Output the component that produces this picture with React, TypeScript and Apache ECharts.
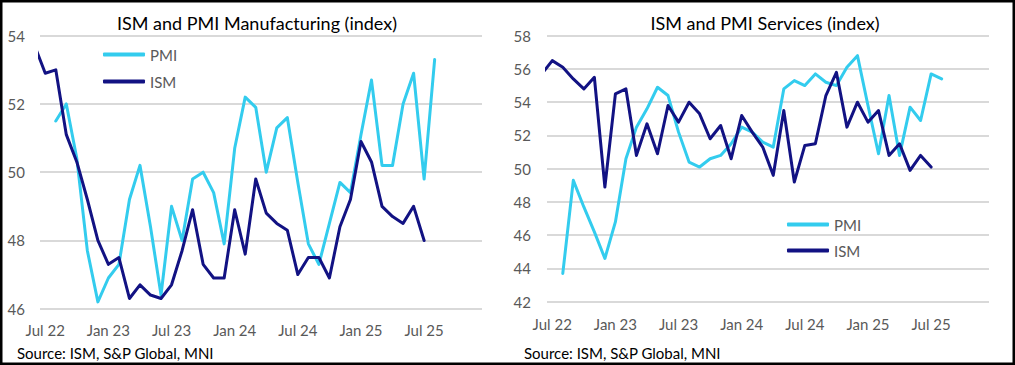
import React, { useEffect, useRef } from "react";
import * as echarts from "echarts";

// Monthly categories, index -1 = Jun 22 (clipped at the left edge), 0 = Jul 22 ... 37 = Aug 25
const months = [
  "Jun 22", "Jul 22", "Aug 22", "Sep 22", "Oct 22", "Nov 22", "Dec 22",
  "Jan 23", "Feb 23", "Mar 23", "Apr 23", "May 23", "Jun 23", "Jul 23", "Aug 23", "Sep 23", "Oct 23", "Nov 23", "Dec 23",
  "Jan 24", "Feb 24", "Mar 24", "Apr 24", "May 24", "Jun 24", "Jul 24", "Aug 24", "Sep 24", "Oct 24", "Nov 24", "Dec 24",
  "Jan 25", "Feb 25", "Mar 25", "Apr 25", "May 25", "Jun 25", "Jul 25", "Aug 25",
];

const tickLabels = ["Jul 22", "Jan 23", "Jul 23", "Jan 24", "Jul 24", "Jan 25", "Jul 25"];

// Manufacturing
const mfgISM: (number | null)[] = [
  53.7, 52.9, 53.0, 51.1, 50.3, 49.2, 48.0,
  47.3, 47.5, 46.3, 46.7, 46.4, 46.3, 46.7, 47.7, 48.9, 47.3, 46.9, 46.9,
  48.9, 47.6, 49.8, 48.8, 48.5, 48.3, 47.0, 47.5, 47.5, 46.9, 48.4, 49.2,
  50.9, 50.3, 49.0, 48.7, 48.5, 49.0, 48.0, null,
];
const mfgPMI: (number | null)[] = [
  null, null, 51.5, 52.0, 50.4, 47.7, 46.2,
  46.9, 47.3, 49.2, 50.2, 48.4, 46.4, 49.0, 48.0, 49.8, 50.0, 49.4, 47.9,
  50.7, 52.2, 51.9, 50.0, 51.3, 51.6, 49.7, 47.9, 47.3, 48.5, 49.7, 49.4,
  51.1, 52.7, 50.2, 50.2, 52.0, 52.9, 49.8, 53.3,
];

// Services
const svcISM: (number | null)[] = [
  55.7, 56.5, 56.1, 55.4, 54.8, 55.5, 48.9,
  54.5, 54.8, 50.8, 52.7, 50.9, 53.8, 52.8, 54.0, 53.3, 51.8, 52.6, 50.6,
  53.2, 52.2, 51.3, 49.6, 53.5, 49.2, 51.4, 51.5, 54.4, 55.8, 52.5, 54.0,
  52.8, 53.5, 50.8, 51.5, 49.9, 50.8, 50.1, null,
];
const svcPMI: (number | null)[] = [
  null, null, 43.7, 49.3, 47.7, 46.2, 44.6,
  46.8, 50.6, 52.5, 53.6, 54.9, 54.4, 52.2, 50.4, 50.1, 50.6, 50.8, 51.5,
  52.5, 52.2, 51.6, 51.3, 54.8, 55.3, 55.0, 55.7, 55.2, 55.0, 56.1, 56.8,
  53.8, 50.9, 54.4, 50.8, 53.7, 52.9, 55.7, 55.4,
];

const titles = ["ISM and PMI Manufacturing (index)", "ISM and PMI Services (index)"];
const sourceText = "Source: ISM, S&P Global, MNI";

const PMI_COLOR = "#33CCEE";
const ISM_COLOR = "#121283";
const FONT = "Lato";

const toPoints = (vals: (number | null)[]) =>
  months
    .map((_, k) => [k - 1, vals[k]] as [number, number | null])
    .filter((p) => p[1] !== null);

export default function App() {
  const ref = useRef<HTMLDivElement>(null);

  useEffect(() => {
    document.body.style.margin = "0";
    if (!ref.current) return;
    const chart = echarts.init(ref.current, null, { renderer: "svg" });

    const tickValues = tickLabels.map((l) => months.indexOf(l) - 1);

    const xAxisBase = (gridIndex: number, margin: number) => ({
      type: "value" as const,
      gridIndex,
      min: -0.5,
      max: 41.5,
      axisLine: { show: false },
      axisTick: { show: false },
      splitLine: { show: false },
      axisLabel: {
        customValues: tickValues,
        formatter: (v: number) => months[Math.round(v) + 1] ?? "",
        color: "#595959",
        fontFamily: FONT,
        fontSize: 15,
        margin,
      },
    });

    const yAxisBase = (gridIndex: number, min: number, max: number, margin: number) => ({
      type: "value" as const,
      gridIndex,
      min,
      max,
      interval: 2,
      axisLine: { show: false },
      axisTick: { show: false },
      splitLine: { lineStyle: { color: "#D9D9D9", width: 2 } },
      axisLabel: { color: "#595959", fontFamily: FONT, fontSize: 15, margin },
    });

    const lineSeries = (name: string, color: string, idx: number, vals: (number | null)[]) => ({
      name,
      type: "line" as const,
      xAxisIndex: idx,
      yAxisIndex: idx,
      data: toPoints(vals),
      showSymbol: false,
      symbol: "none",
      clip: true,
      lineStyle: { color, width: 3, cap: "round", join: "round" },
      itemStyle: { color },
    });

    const legendItem = (name: string, left: number, top: number) => ({
      data: [name],
      left,
      top,
      orient: "horizontal",
      icon: "roundRect",
      itemWidth: 42,
      itemHeight: 4,
      padding: 0,
      selectedMode: false,
      textStyle: { color: "#595959", fontFamily: FONT, fontSize: 15 },
    });

    chart.setOption({
      animation: false,
      grid: [
        { left: 40, top: 35.7, width: 442, height: 273 },
        { left: 547, top: 35.7, width: 442, height: 266 },
      ],
      xAxis: [xAxisBase(0, 14), xAxisBase(1, 15)],
      yAxis: [yAxisBase(0, 46, 54, 15), yAxisBase(1, 42, 58, 16)],
      legend: [
        legendItem("PMI", 103, 47),
        legendItem("ISM", 103, 74),
        legendItem("PMI", 787, 217),
        legendItem("ISM", 787, 243),
      ],
      series: [
        lineSeries("PMI", PMI_COLOR, 0, mfgPMI),
        lineSeries("ISM", ISM_COLOR, 0, mfgISM),
        lineSeries("PMI", PMI_COLOR, 1, svcPMI),
        lineSeries("ISM", ISM_COLOR, 1, svcISM),
      ],
      graphic: [
        {
          type: "rect",
          shape: { x: 1.25, y: 1.25, width: 1012.5, height: 362.5 },
          style: { fill: "none", stroke: "#000", lineWidth: 2.5 },
          silent: true,
        },
        {
          type: "text",
          x: 257,
          y: 23,
          style: { text: titles[0], fill: "#000", fontFamily: FONT, fontSize: 18, align: "center", verticalAlign: "middle" },
        },
        {
          type: "text",
          x: 765,
          y: 23,
          style: { text: titles[1], fill: "#000", fontFamily: FONT, fontSize: 18, align: "center", verticalAlign: "middle" },
        },
        {
          type: "text",
          x: 17,
          y: 353,
          style: { text: sourceText, fill: "#000", fontFamily: FONT, fontSize: 15, align: "left", verticalAlign: "middle" },
        },
        {
          type: "text",
          x: 524,
          y: 353,
          style: { text: sourceText, fill: "#000", fontFamily: FONT, fontSize: 15, align: "left", verticalAlign: "middle" },
        },
      ],
    });

    return () => chart.dispose();
  }, []);

  return (
    <div
      ref={ref}
      style={{ position: "absolute", left: 0, top: 0, width: 1015, height: 365, background: "#fff" }}
    />
  );
}
